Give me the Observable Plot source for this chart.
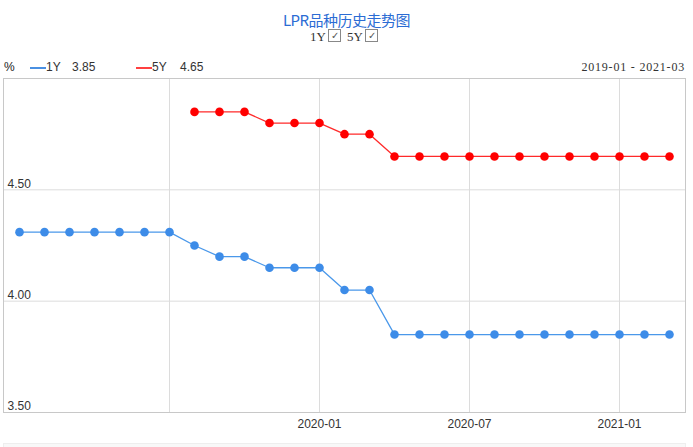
<!DOCTYPE html>
<html>
<head>
<meta charset="utf-8">
<script src="https://cdn.jsdelivr.net/npm/d3@7"></script>
<script src="https://cdn.jsdelivr.net/npm/@observablehq/plot@0.6"></script>
<style>
  body { margin: 0; background: #fff; }
  #wrap { position: relative; width: 693px; height: 447px; overflow: hidden; font-family: Arial, "Liberation Sans", sans-serif; }
  .abs { position: absolute; white-space: nowrap; }
  .serif { font-family: "Liberation Serif", "DejaVu Serif", serif; }
  .chk { position: absolute; width: 11px; height: 11px; border: 1px solid #888; font-size: 10px; line-height: 11px; text-align: center; color: #555; }
  #chart { position: absolute; left: 0; top: 70px; }
  #slider { position: absolute; left: 3px; top: 443px; width: 681px; height: 10px; background: #f8f8f8; border: 1px solid #eee; }
</style>
</head>
<body>
<div id="wrap">
  <div class="abs" id="title" style="left:0;width:693px;text-align:center;top:9px;font-size:15px;color:#2b6cd4;font-family:'Noto Sans CJK SC',sans-serif;letter-spacing:-0.5px;">LPR品种历史走势图</div>
  <div class="abs serif" style="left:310px;top:29px;font-size:13px;color:#333;">1Y</div>
  <div class="chk" style="left:328px;top:29px;">✓</div>
  <div class="abs serif" style="left:347px;top:29px;font-size:13px;color:#333;">5Y</div>
  <div class="chk" style="left:365px;top:29px;">✓</div>
  <div class="abs" style="left:4px;top:60px;font-size:12px;color:#222;">%</div>
  <div class="abs" style="left:30px;top:67px;width:16px;height:2px;background:#4a90e2;"></div>
  <div class="abs" style="left:46px;top:60px;font-size:12px;color:#333;">1Y</div>
  <div class="abs" style="left:72px;top:60px;font-size:12px;color:#333;">3.85</div>
  <div class="abs" style="left:136px;top:67px;width:16px;height:2px;background:#ff4040;"></div>
  <div class="abs" style="left:152px;top:60px;font-size:12px;color:#333;">5Y</div>
  <div class="abs" style="left:180px;top:60px;font-size:12px;color:#333;">4.65</div>
  <div class="abs serif" style="right:8px;top:60px;font-size:12px;color:#333;letter-spacing:0.8px;">2019-01 - 2021-03</div>
  <div id="chart"></div>
  <div id="slider"></div>
</div>
<script>
const months = [
  "2019-01","2019-02","2019-03","2019-04","2019-05","2019-06","2019-07","2019-08","2019-09",
  "2019-10","2019-11","2019-12","2020-01","2020-02","2020-03","2020-04","2020-05","2020-06",
  "2020-07","2020-08","2020-09","2020-10","2020-11","2020-12","2021-01","2021-02","2021-03"
];
const oneY = [
  4.31,4.31,4.31,4.31,4.31,4.31,4.31,4.25,4.20,
  4.20,4.15,4.15,4.15,4.05,4.05,3.85,3.85,3.85,
  3.85,3.85,3.85,3.85,3.85,3.85,3.85,3.85,3.85
];
const fiveY = [
  null,null,null,null,null,null,null,4.85,4.85,
  4.85,4.80,4.80,4.80,4.75,4.75,4.65,4.65,4.65,
  4.65,4.65,4.65,4.65,4.65,4.65,4.65,4.65,4.65
];
const gridMonths = ["2019-07","2020-01","2020-07","2021-01"];
const xTickLabels = ["2020-01","2020-07","2021-01"];
const yTicks = [3.5, 4.0, 4.5];
const yGrid = [4.0, 4.5];

const rows1 = months.map((m, i) => ({month: m, value: oneY[i]}));
const rows5 = months.map((m, i) => ({month: m, value: fiveY[i]})).filter(d => d.value != null);

const blueLine = "#4a98ea", blueDot = "#3d8ce8";
const redLine = "#ff2a2a", redDot = "#ff0000";

const chart = Plot.plot({
  width: 693,
  height: 377,
  marginLeft: 3,
  marginRight: 8,
  marginTop: 8,
  marginBottom: 35,
  style: {fontFamily: "Arial, 'Liberation Sans', sans-serif", fontSize: "12px", background: "transparent"},
  x: {type: "point", domain: months, padding: 0.5, axis: null},
  y: {domain: [3.5, 5.0], axis: null},
  marks: [
    Plot.ruleY(yGrid, {stroke: "#dcdcdc", strokeWidth: 1}),
    Plot.ruleX(gridMonths, {stroke: "#dcdcdc", strokeWidth: 1}),
    Plot.frame({stroke: "#c8c8c8", strokeWidth: 1}),
    Plot.text(yTicks, {y: d => d, frameAnchor: "left", textAnchor: "start", dx: 4, dy: -6, text: d => d.toFixed(2), fill: "#333", fontSize: 12}),
    Plot.text(xTickLabels, {x: d => d, frameAnchor: "bottom", dy: 15, text: d => d, fill: "#333", fontSize: 12}),
    Plot.line(rows1, {x: "month", y: "value", stroke: blueLine, strokeWidth: 1.3}),
    Plot.dot(rows1, {x: "month", y: "value", r: 4.3, fill: blueDot, stroke: "none"}),
    Plot.line(rows5, {x: "month", y: "value", stroke: redLine, strokeWidth: 1.3}),
    Plot.dot(rows5, {x: "month", y: "value", r: 4.3, fill: redDot, stroke: "none"})
  ]
});
document.getElementById("chart").appendChild(chart);
</script>
</body>
</html>
